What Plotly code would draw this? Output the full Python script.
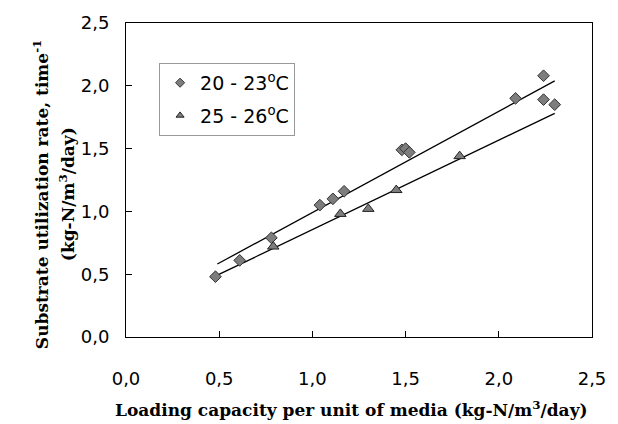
import numpy as np
import plotly.graph_objects as go

# Data
x_2023 = [0.48, 0.61, 0.78, 1.04, 1.11, 1.17, 1.48, 1.50, 1.52, 2.09, 2.24, 2.24, 2.30]
y_2023 = [0.48, 0.61, 0.79, 1.05, 1.10, 1.16, 1.49, 1.50, 1.47, 1.90, 2.08, 1.89, 1.85]
x_2526 = [0.79, 1.15, 1.30, 1.45, 1.79]
y_2526 = [0.72, 0.98, 1.02, 1.17, 1.44]
fit_x_range = [0.49, 2.30]
tick_vals = [0.0, 0.5, 1.0, 1.5, 2.0, 2.5]
names = ["20 - 23<sup>o</sup>C", "25 - 26<sup>o</sup>C"]

def fit(xs, ys):
    m, b = np.polyfit(xs, ys, 1)
    fx = np.array(fit_x_range)
    return fx, m * fx + b

FILL = "#7d7d7d"
fig = go.Figure()
fx1, fy1 = fit(x_2023, y_2023)
fx2, fy2 = fit(x_2526, y_2526)
fig.add_trace(go.Scatter(x=fx1, y=fy1, mode="lines", line=dict(color="black", width=1.3), showlegend=False))
fig.add_trace(go.Scatter(x=fx2, y=fy2, mode="lines", line=dict(color="black", width=1.3), showlegend=False))
fig.add_trace(go.Scatter(x=x_2023, y=y_2023, mode="markers", showlegend=False,
                         marker=dict(symbol="diamond", size=9, color=FILL, line=dict(color="#333333", width=1))))
fig.add_trace(go.Scatter(x=x_2526, y=y_2526, mode="markers", showlegend=False,
                         marker=dict(symbol="triangle-up", size=10, color=FILL, line=dict(color="#222222", width=1))))
# legend entries (smaller legend symbols, as in the reference)
fig.add_trace(go.Scatter(x=[None], y=[None], mode="markers", name=names[0], legendgroup="a",
                         marker=dict(symbol="diamond", size=7, color=FILL, line=dict(color="#333333", width=1))))
fig.add_trace(go.Scatter(x=[None], y=[None], mode="markers", name=names[1], legendgroup="b",
                         marker=dict(symbol="triangle-up", size=7, color=FILL, line=dict(color="#222222", width=1))))

axis_common = dict(range=[0, 2.5], tickvals=tick_vals, tickformat=".1f", showgrid=False, zeroline=False,
                   showline=True, linecolor="black", linewidth=1, mirror=True, ticks="inside", ticklen=6,
                   tickcolor="black", tickfont=dict(family="DejaVu Sans", size=18, color="black"))
fig.update_xaxes(**axis_common, ticklabelstandoff=25)
fig.update_yaxes(**axis_common, ticklabelstandoff=12)

fig.update_layout(
    width=618, height=424, separators=",.",
    margin=dict(l=126, r=25, t=17, b=87),
    plot_bgcolor="white", paper_bgcolor="white",
    legend=dict(x=0.071, y=0.873, xanchor="left", yanchor="top", bgcolor="white",
                bordercolor="#999999", borderwidth=1, itemwidth=30,
                font=dict(family="DejaVu Sans", size=19, color="black"),
                tracegroupgap=5, itemsizing="trace"),
    annotations=[
        dict(text="<b>Loading capacity per unit of media (kg-N/m<sup>3</sup>/day)</b>", xref="paper", yref="paper",
             x=0.5, y=0, xshift=-8, yshift=-72, xanchor="center", yanchor="middle", showarrow=False,
             font=dict(family="DejaVu Serif", size=17, color="black")),
        dict(text="<b>Substrate utilization rate, time<sup>-1</sup></b>", xref="paper", yref="paper",
             x=0, xshift=-85, y=0.455, textangle=-90, xanchor="center", yanchor="middle", showarrow=False,
             font=dict(family="DejaVu Serif", size=17, color="black")),
        dict(text="<b>(kg-N/m<sup>3</sup>/day)</b>", xref="paper", yref="paper",
             x=0, xshift=-59, y=0.455, textangle=-90, xanchor="center", yanchor="middle", showarrow=False,
             font=dict(family="DejaVu Serif", size=17, color="black")),
    ],
)
fig.write_html("out.html", config={"displayModeBar": False},
               post_script="document.body.style.margin='0';document.body.style.padding='0';")
